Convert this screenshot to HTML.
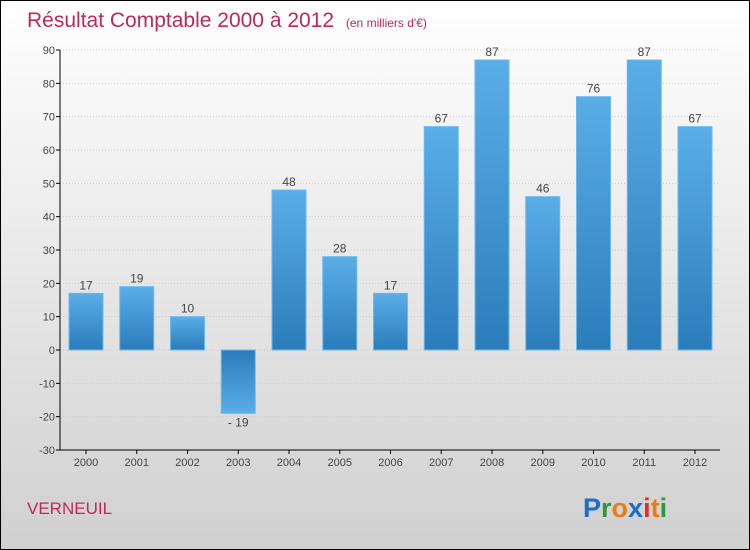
<!DOCTYPE html>
<html><head><meta charset="utf-8"><style>
body{margin:0;width:750px;height:550px;overflow:hidden}
svg{display:block}
text{font-family:"Liberation Sans",sans-serif}
</style></head><body>
<svg id="c" width="750" height="550" xmlns="http://www.w3.org/2000/svg">
<defs>
<linearGradient id="bg" x1="0" y1="0" x2="0" y2="1"><stop offset="0" stop-color="#ffffff"/><stop offset="1" stop-color="#d0d0d0"/></linearGradient>
<linearGradient id="bp" x1="0" y1="0" x2="0" y2="1"><stop offset="0" stop-color="#5aaee8"/><stop offset="1" stop-color="#2a7dba"/></linearGradient>
<linearGradient id="bn" x1="0" y1="0" x2="0" y2="1"><stop offset="0" stop-color="#2a7dba"/><stop offset="1" stop-color="#5aaee8"/></linearGradient>
</defs>
<rect x="0.5" y="0.5" width="749" height="549" fill="url(#bg)" stroke="#000"/>
<text x="27" y="27" font-size="21" fill="#c0285a">Résultat Comptable 2000 à 2012 <tspan font-size="12" dx="6">(en milliers d'€)</tspan></text>
<text x="27" y="514" font-size="17" fill="#c0285a">VERNEUIL</text>
<g font-size="27" font-weight="bold">
<text x="583" y="517"><tspan fill="#1a6fc8">P</tspan><tspan fill="#2a9a3a">r</tspan><tspan fill="#f07a10">o</tspan><tspan fill="#1a6fc8">x</tspan><tspan fill="#e03020">i</tspan><tspan fill="#f07a10">t</tspan><tspan fill="#2a9a3a">i</tspan></text>
</g>
<g id="grid"></g><g id="bars"></g><g id="axes"></g>
</svg>
<script>
const years=["2000","2001","2002","2003","2004","2005","2006","2007","2008","2009","2010","2011","2012"];
const values=[17,19,10,-19,48,28,17,67,87,46,76,87,67];
const yTicks=[-30,-20,-10,0,10,20,30,40,50,60,70,80,90];
const NS="http://www.w3.org/2000/svg";
const y=v=>350-(v)*400/120;
const x=i=>86+i*50.75;
function el(t,a,p){const e=document.createElementNS(NS,t);for(const k in a)e.setAttribute(k,a[k]);p.appendChild(e);return e;}
const g=document.getElementById('grid'),b=document.getElementById('bars'),ax=document.getElementById('axes');
yTicks.forEach(v=>{
 const l=el('line',{x1:60,x2:720,y1:y(v),y2:y(v),stroke:'#ccc','stroke-dasharray':'1,2'},g);
 
 
 const t=el('line',{x1:56,x2:60,y1:y(v),y2:y(v),stroke:'#000'},ax);
 
 
 const tx=el('text',{x:55,y:y(v)+4,'text-anchor':'end','font-size':11,fill:'#444'},ax);
 tx.textContent=v;
 
 
});
el('line',{x1:60,x2:60,y1:50,y2:450,stroke:'#000'},ax);
el('line',{x1:60,x2:720,y1:450,y2:450,stroke:'#000'},ax);
years.forEach((yr,i)=>{
 const v=values[i],top=Math.min(y(v),y(0)),h=Math.abs(y(v)-y(0));
 const r=el('rect',{x:x(i)-17,y:top,width:34,height:h,fill:v>=0?'url(#bp)':'url(#bn)',stroke:'#6bb8ee','stroke-width':1},b);
 
 
 const lt=el('text',{x:x(i),y:v>=0?y(v)-4:y(v)+13,'text-anchor':'middle','font-size':12,fill:'#444'},b);
 lt.textContent=v<0?'- '+Math.abs(v):v;
 
 
 const tk=el('line',{x1:x(i),x2:x(i),y1:450,y2:454,stroke:'#000'},ax);
 
 
 const xl=el('text',{x:x(i),y:466,'text-anchor':'middle','font-size':11,fill:'#444'},ax);
 xl.textContent=yr;
 
 
});
</script>
</body></html>
